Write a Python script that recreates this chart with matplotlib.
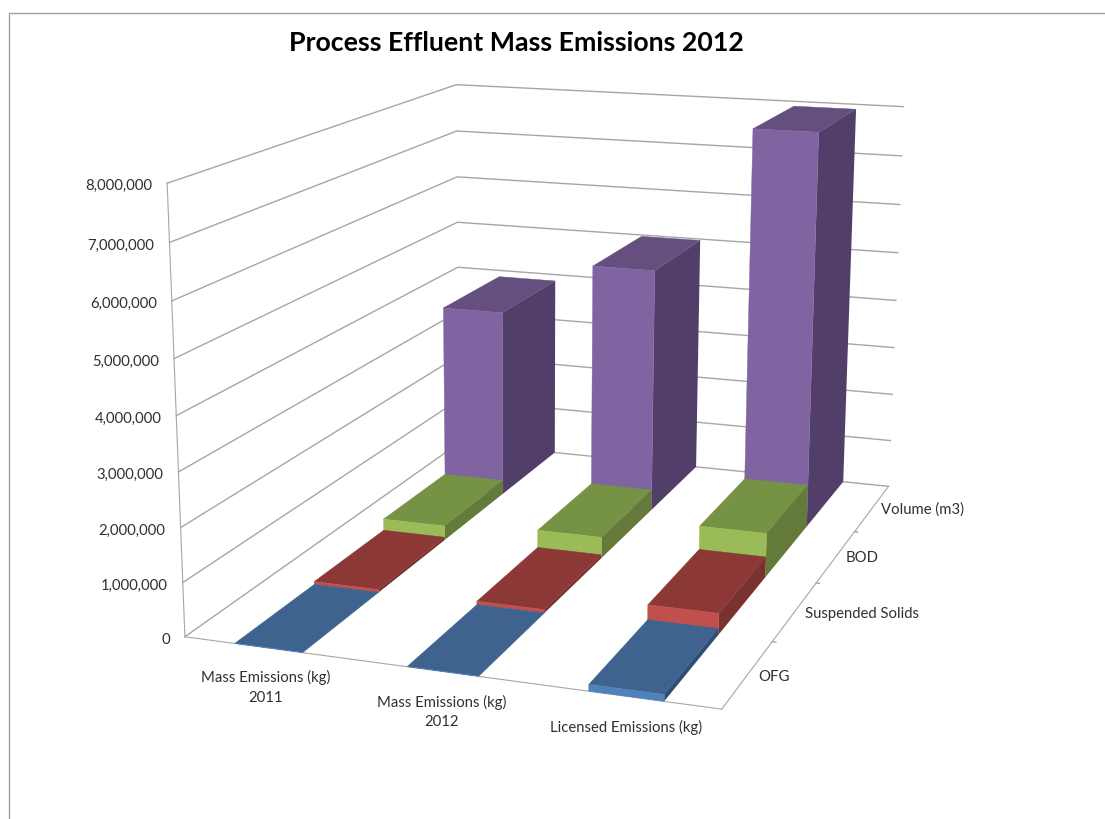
import numpy as np
import matplotlib
matplotlib.use("Agg")
import matplotlib.pyplot as plt
from matplotlib.lines import Line2D
from mpl_toolkits.mplot3d import proj3d

TITLE = "Process Effluent Mass Emissions 2012"
categories = ["Mass Emissions (kg)\n2011", "Mass Emissions (kg)\n2012", "Licensed Emissions (kg)"]
series_names = ["OFG", "Suspended Solids", "BOD", "Volume (m3)"]
ofg = [5000, 5000, 120000]
suspended = [60000, 70000, 400000]
bod = [290000, 420000, 860000]
volume = [3860000, 4970000, 7900000]
z_ticks = [0, 1000000, 2000000, 3000000, 4000000, 5000000, 6000000, 7000000, 8000000]

FRONT = ["#4F81BD", "#C0504D", "#9BBB59", "#8064A2"]
TOP = ["#3E638F", "#8C3836", "#769245", "#644F7F"]
SIDE = ["#2F4E73", "#7A3230", "#637A3A", "#523F69"]
CLEAR = (0, 0, 0, 0)
GRID = "#a6a6a6"
TEXT = "#303030"
W, H = 1105, 819

plt.rcParams["font.family"] = ["Lato", "DejaVu Sans"]
fig = plt.figure(figsize=(W / 100, H / 100), dpi=100, facecolor="white")
ax = fig.add_axes([0, 0, 1, 1], projection="3d", computed_zorder=False)
ax.apply_aspect = lambda position=None: None

nx, ny, zmax = len(categories), len(series_names), z_ticks[-1]

# Camera: fitted so the chart box lands on the reference's box corners.
box = np.array([[0, 0, 0], [1, 0, 0], [1, 1, 0], [0, 1, 0],
                [0, 0, 1], [1, 1, 1], [0, 1, 1]], float)
pix = np.array([[184.5, 636], [722.3, 709.5], [888.3, 486], [459.3, 443.5],
                [167, 183.7], [903.3, 106.7], [456.7, 84.3]], float)
to2d = ax.transData.inverted()
img = to2d.transform(np.c_[pix[:, 0], H - pix[:, 1]])
rows = []
for (a, b, c), (u, v) in zip(box, img):
    rows.append([a, b, c, 1, 0, 0, 0, 0, -u * a, -u * b, -u * c, -u])
    rows.append([0, 0, 0, 0, a, b, c, 1, -v * a, -v * b, -v * c, -v])
P = np.linalg.svd(np.array(rows))[2][-1].reshape(3, 4)
if (P[2] @ np.c_[box, np.ones(len(box))].T).mean() < 0:
    P = -P
P = P @ np.diag([1 / nx, 1 / ny, 1 / zmax, 1])
P = P / P[2, 3]
M = np.array([P[0], P[1], [0, 0, 0, -1], P[2]])
ax.get_proj = lambda: M

# Walls
for z in z_ticks:
    ax.plot([0, 0, nx], [0, ny, ny], [z, z, z], color=GRID, lw=1, zorder=1)
for j in range(1, ny):
    ax.plot([nx, nx + 0.02], [j, j], [0, 0], color=GRID, lw=1, zorder=1)

# Bars, back to front
series = [ofg, suspended, bod, volume]
order = 10
for j in range(ny - 1, -1, -1):
    for i in range(nx):
        faces = [CLEAR, TOP[j], FRONT[j], CLEAR, CLEAR, SIDE[j]]
        edges = [CLEAR, TOP[j], FRONT[j], CLEAR, CLEAR, CLEAR]
        ax.bar3d([i + 0.3], [j], [0], 0.4, 1, [series[j][i]], color=faces,
                 edgecolor=edges, linewidth=0.3, shade=False, zorder=order)
        order += 1

ax.set_xlim(0, nx, view_margin=0)
ax.set_ylim(0, ny, view_margin=0)
ax.set_zlim(0, zmax, view_margin=0)
ax.set_xticks(np.arange(nx) + 0.54, categories)
ax.set_yticks(np.arange(ny) + 0.5, series_names)
ax.set_zticks(z_ticks)
ax.zaxis.set_ticks_position("lower")
ax.zaxis.set_tick_params(labelleft=False, labelright=False)
ax.grid(False)
for axis in (ax.xaxis, ax.yaxis, ax.zaxis):
    axis.set_pane_color((1, 1, 1, 0))
    axis.pane.set_edgecolor((1, 1, 1, 0))
    axis.line.set_color(GRID)
    axis._axinfo["tick"]["inward_factor"] = 0
    axis._axinfo["tick"]["outward_factor"] = 0
ax.tick_params(axis="x", labelsize=10.75, labelcolor=TEXT, pad=3)
ax.tick_params(axis="y", labelsize=10.75, labelcolor=TEXT, pad=-1)
for t in ax.get_xticklabels():
    t.set_linespacing(1.5)
for t in ax.get_yticklabels():
    t.set_ha("left")
    t.set_va("bottom")
ax.zaxis.set_ticklabels([])
for z in z_ticks:
    xp, yp, _ = proj3d.proj_transform(0, 0, z, M)
    ax.annotate(f"{z:,}", xy=(xp, yp), xycoords="data", xytext=(-10.8, -2.2),
                textcoords="offset points", ha="right", va="center",
                fontsize=10.75, color=TEXT, annotation_clip=False)

fig.text(516 / W, 1 - 43 / H, TITLE, ha="center", va="center", fontsize=19.3,
         fontweight="bold", color="black")
fig.add_artist(Line2D([8.5 / W, 8.5 / W, 1], [0, 1 - 12.5 / H, 1 - 12.5 / H],
                      color="#a0a0a0", lw=1))
fig.savefig("out.png", dpi=100)
